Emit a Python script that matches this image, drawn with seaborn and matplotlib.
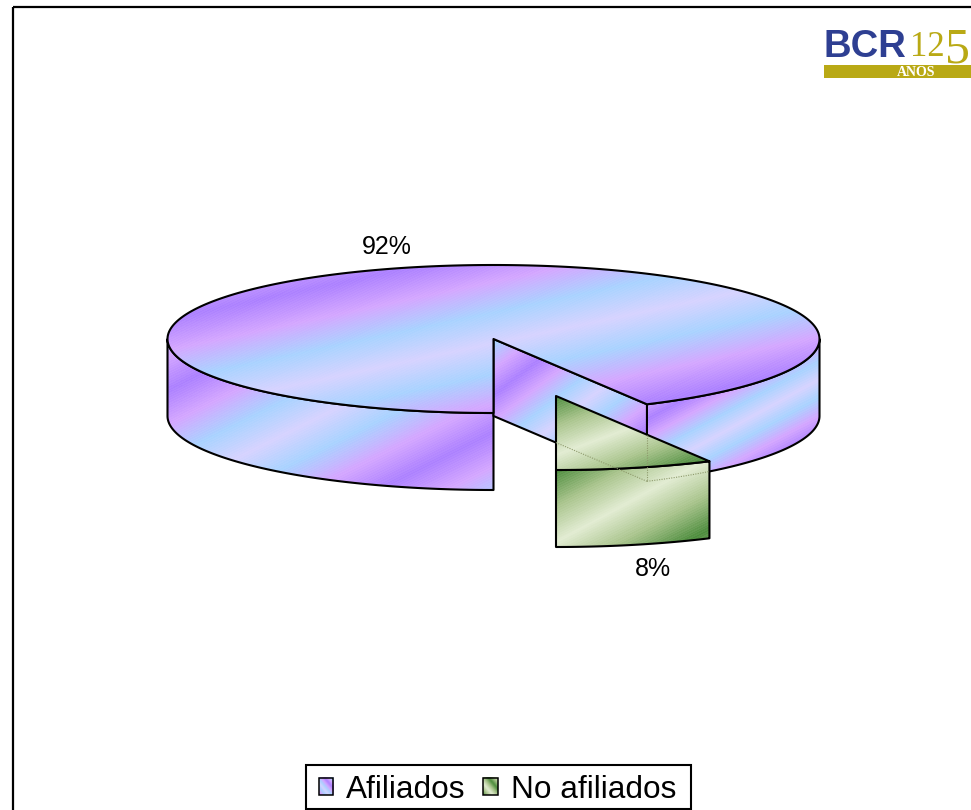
import numpy as np
import matplotlib
matplotlib.use("Agg")
import matplotlib.pyplot as plt
import seaborn as sns
from matplotlib.image import BboxImage
from matplotlib.patches import Polygon, Rectangle, Patch
from matplotlib.transforms import Bbox, TransformedBbox
from matplotlib.legend_handler import HandlerPatch

categories = ["Afiliados", "No afiliados"]
shares = [92.2, 7.8]
value_labels = ["92%", "8%"]

sns.set_theme(style="white")
plt.rcParams["font.family"] = ["Liberation Sans", "DejaVu Sans"]
plt.rcParams["text.color"] = "black"

W, H = 971, 810
CX, CY, RX, RY, DEPTH = 493.5, 339.0, 326.0, 74.0, 77.0
EXPLODE = (62.5, 57.0)

violet = sns.blend_palette(["#AC80FF", "#D4A6FF", "#A8D2FF", "#D6D2FF", "#A8D2FF", "#D4A6FF", "#AC80FF"], as_cmap=True)
green = sns.blend_palette(["#4C8C3C", "#A9C48C", "#E2ECD2", "#A9C48C", "#4C8C3C"], as_cmap=True)

YY, XX = np.mgrid[0:H, 0:W] + 0.5


def shade(cmap, slope, u0, period):
    u = ((YY + slope * XX - u0) / period) % 1.0
    rgb = cmap(u)[..., :3]
    fine = 0.5 + 0.5 * np.sign(np.sin((YY * 1.6 + XX * 0.8) * np.pi / 2.0))
    return rgb * (1 - 0.05 * fine[..., None]) + 0.05 * fine[..., None]


def rim(t_deg, dx=0.0, dy=0.0):
    t = np.radians(t_deg)
    return np.column_stack([CX + dx + RX * np.sin(t), CY + dy + RY * np.cos(t)])


fig = plt.figure(figsize=(W / 100, H / 100), dpi=100)
ax = fig.add_axes([0, 0, 1, 1])
z = [2]


def face(points, cmap, slope, u0, period, lw=1.5):
    poly = Polygon(points, closed=True, fill=False, edgecolor="black", lw=lw, joinstyle="round", zorder=z[0] + 1)
    ax.add_patch(poly)
    im = ax.imshow(shade(cmap, slope, u0, period), extent=(0, W, H, 0), aspect="auto", interpolation="nearest", zorder=z[0])
    im.set_clip_path(poly)
    z[0] += 2


def wall(t0, t1, dx, dy, cmap, slope, u0, period):
    t = np.linspace(t0, t1, 120)
    top = rim(t, dx, dy)
    bottom = top + [0, DEPTH]
    face(np.vstack([top, bottom[::-1]]), cmap, slope, u0, period)


sweep = 360.0 * shares[1] / sum(shares)

# main slice: outer walls, cut wall, top face
wall(270, 360, 0, 0, violet, 0.5, 474, 205)
wall(sweep, 90, 0, 0, violet, 0.55, 775, 110)
c = np.array([[CX, CY]])
e = rim(np.array([sweep]))
hb = e + [0, DEPTH]
face(np.vstack([c, e, hb, c + [0, DEPTH]]), violet, 0.77, 775, 154)
t = np.linspace(sweep, 360, 400)
face(np.vstack([c, rim(t)]), violet, 0.21, 354, 186)

# exploded slice
dx, dy = EXPLODE
wall(0, sweep, dx, dy, green, 0.55, 776, 144)
t = np.linspace(0, sweep, 80)
apex = np.array([[CX + dx, CY + dy]])
face(np.vstack([apex, rim(t, dx, dy)]), green, 0.36, 596, 118)

# hidden edges of the main slice seen through the exploded one
hz = z[0] + 1
hidden = dict(ls=(0, (1, 1.2)), lw=0.8, color="#8E9A6C", zorder=hz)
frac = dx / (e[0, 0] - CX)
ax.plot([CX + dx, hb[0, 0]], [CY + DEPTH + frac * (hb[0, 1] - CY - DEPTH), hb[0, 1]], **hidden)
ax.plot([e[0, 0], e[0, 0]], [e[0, 1] + DEPTH * 0.4, hb[0, 1]], **hidden)
t_end = np.degrees(np.arcsin((dx + RX * np.sin(np.radians(sweep))) / RX))
rr = rim(np.linspace(sweep, t_end, 30), 0, DEPTH)
ax.plot(rr[:, 0], rr[:, 1], **hidden)

# value labels
ax.text(387, 247, value_labels[0], ha="center", va="center", fontsize=18, color="black", zorder=hz + 1)
ax.text(653, 569, value_labels[1], ha="center", va="center", fontsize=18, color="black", zorder=hz + 1)

# chart frame, open past the right and bottom edges of the picture
ax.add_patch(Rectangle((13, 7), 1200, 1000, fill=False, edgecolor="black", lw=1.6, zorder=hz + 1))

# logo
ax.text(824, 47, "BCR", fontsize=27.5, fontweight="bold", family="Liberation Sans", color="#2E3F92", ha="left", va="center", zorder=hz + 1)
ax.text(910, 48, "12", fontsize=25, family="Liberation Serif", color="#B9A915", ha="left", va="center", zorder=hz + 1)
ax.text(945, 50, "5", fontsize=36, family="Liberation Serif", color="#B9A915", ha="left", va="center", zorder=hz + 1)
ax.add_patch(Rectangle((824, 65), 147, 13, facecolor="#B9A915", edgecolor="none", zorder=hz + 1))
ax.text(916, 72, "AÑOS", fontsize=10, fontweight="bold", family="Liberation Serif", color="white", ha="center", va="center", zorder=hz + 2)


class GradientHandler(HandlerPatch):
    def __init__(self, cmap):
        super().__init__()
        self.cmap = cmap

    def create_artists(self, legend, orig_handle, xdescent, ydescent, width, height, fontsize, trans):
        box = TransformedBbox(Bbox([[-xdescent, -ydescent], [-xdescent + width, -ydescent + height]]), trans)
        img = BboxImage(box, interpolation="bilinear", zorder=1)
        yy, xx = np.mgrid[0:14, 0:14]
        img.set_data(self.cmap(((xx - yy + 14) / 28.0 * 1.5) % 1.0))
        rect = Rectangle((-xdescent, -ydescent), width, height, fill=False, edgecolor="black", lw=1.1, transform=trans)
        return [img, rect]


ax.add_patch(Rectangle((306, 765), 385, 44, facecolor="white", edgecolor="black", lw=1.5, zorder=hz + 2))
handles = [Patch(label=categories[0]), Patch(label=categories[1])]
leg = ax.legend(
    handles=handles, ncol=2, loc="center", bbox_to_anchor=(497.5, 790), bbox_transform=ax.transData,
    fontsize=22.7, frameon=False,
    handlelength=0.46, handleheight=0.46, handletextpad=0.42, columnspacing=0.55,
    borderpad=0.32, borderaxespad=0,
    handler_map={handles[0]: GradientHandler(violet), handles[1]: GradientHandler(green)},
)
leg.set_zorder(hz + 3)

ax.set_xlim(0, W)
ax.set_ylim(H, 0)
ax.axis("off")
fig.savefig("out.png", dpi=100, facecolor="white")
